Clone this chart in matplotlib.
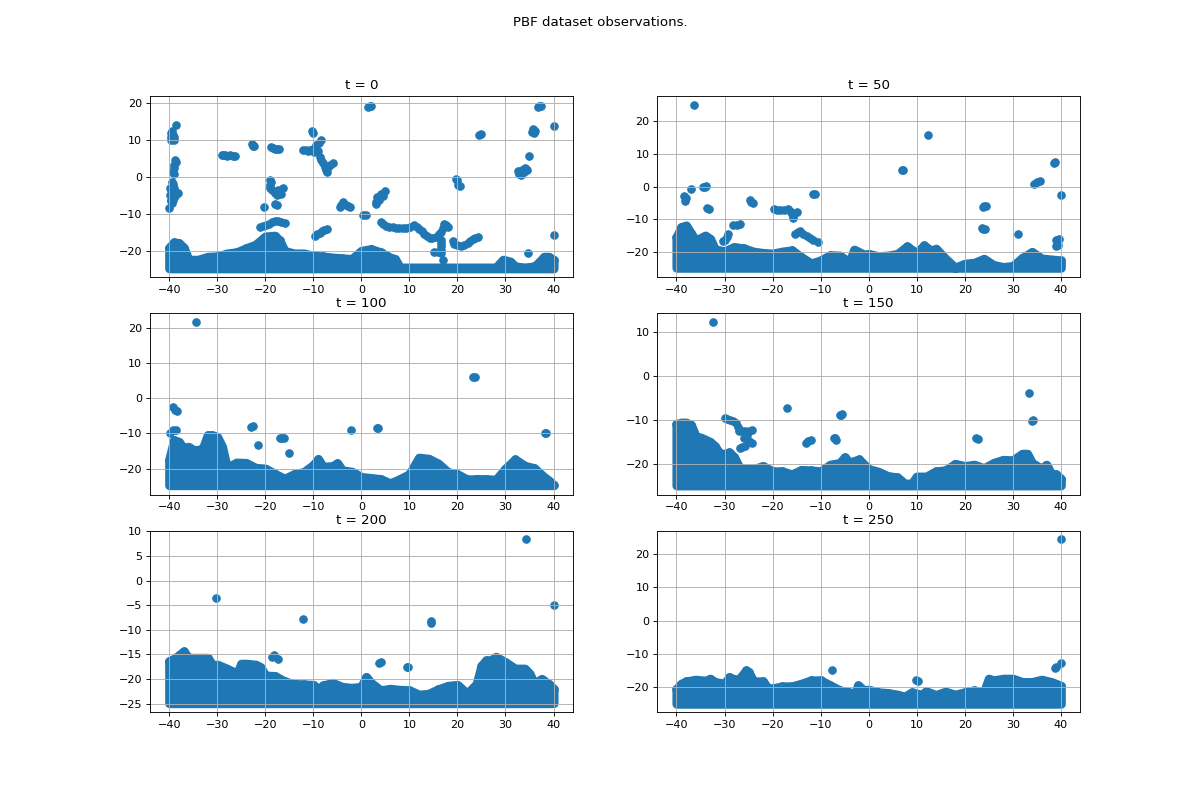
import matplotlib
matplotlib.use("Agg")
import matplotlib.pyplot as plt

times = [0, 50, 100, 150, 200, 250]

# lower edge of the dense band of observations in each panel
band_low = [-24.6, -24.8, -24.7, -24.9, -24.9, -25.0]

ylims = [(-27.0, 22.0), (-27.7, 27.7), (-27.4, 24.2), (-27.0, 14.3), (-26.7, 10.1), (-27.5, 27.0)]

# upper edge of the dense band
band0_x = [-40, -39, -38, -37, -36, -34, -32, -30, -28, -26, -24, -22, -20, -18, -17, -16, -14, -12, -10, -8, -6, -4, -2, 0, 2, 4, 6, 7, 8, 10, 12, 14, 16, 18, 20, 22, 24, 26, 28, 29.5, 31, 32, 34, 36, 37, 38, 39, 40]
band0_y = [-19.0, -17.6, -17.8, -19.0, -22.3, -22.3, -21.5, -21.4, -20.6, -20.3, -19.2, -18.2, -16.0, -15.8, -17.2, -19.9, -20.6, -20.6, -21.2, -21.4, -21.7, -21.9, -22.1, -19.9, -19.4, -20.3, -21.7, -22.1, -24.4, -24.4, -24.4, -24.4, -24.4, -24.4, -24.4, -24.4, -24.4, -24.4, -24.4, -22.3, -22.8, -24.1, -24.4, -24.1, -23.0, -21.5, -21.5, -22.3]
band1_x = [-40, -39, -38, -37, -36, -34, -33, -32, -30, -28, -26, -24, -22, -20, -18, -16, -14, -12, -10, -8, -6, -4, -3, -1, 0, 2, 4, 6, 8, 10, 11.5, 13, 14, 16, 18, 20, 22, 24, 26, 28, 30, 32, 34, 36, 38, 40]
band1_y = [-15.5, -12.4, -11.9, -14.3, -16.5, -15.0, -16.0, -19.2, -19.8, -18.5, -18.9, -19.9, -20.3, -20.5, -19.9, -19.5, -21.6, -23.5, -22.6, -21.0, -21.1, -23.2, -19.3, -20.8, -20.6, -21.3, -21.1, -20.6, -18.3, -20.4, -18.0, -19.6, -19.0, -22.1, -24.8, -23.6, -23.3, -22.1, -24.0, -24.6, -24.3, -21.8, -20.0, -22.0, -22.3, -22.6]
band2_x = [-40, -39, -38, -37, -36, -35, -34, -33, -32, -31, -30, -29, -28, -26, -24, -22, -20, -18, -16, -14, -12, -10, -9, -8, -6, -5, -4, -2, 0, 2, 4, 6, 8, 10, 12, 14, 16, 18, 20, 22, 24, 26, 28, 30, 32, 34, 36, 38, 39, 40]
band2_y = [-17.5, -11.9, -12.4, -14.3, -13.8, -14.7, -14.7, -14.3, -10.5, -10.5, -11.0, -13.8, -19.8, -18.3, -18.4, -19.8, -20.0, -21.5, -22.9, -21.6, -21.0, -19.0, -17.3, -19.5, -19.3, -18.5, -20.5, -20.9, -22.4, -22.7, -23.0, -24.2, -23.0, -21.6, -16.9, -17.2, -18.6, -21.0, -21.6, -23.1, -23.0, -23.0, -23.2, -20.0, -17.4, -19.2, -19.9, -22.4, -23.4, -24.7]
band3_x = [-40, -39, -38, -37, -36, -35, -34, -33, -32, -31, -30, -29, -28, -27, -26, -24, -22, -20, -18, -16, -14, -12, -10, -8, -6, -5, -4, -2, 0, 2, 4, 6, 7.5, 9, 10, 12, 14, 16, 18, 20, 22, 24, 26, 28, 30, 32, 33, 34, 36, 37, 38, 39, 40]
band3_y = [-10.9, -10.6, -10.6, -11.1, -13.8, -14.0, -14.5, -15.0, -16.0, -17.7, -17.7, -17.4, -18.5, -20.7, -21.1, -21.2, -20.5, -21.7, -21.7, -22.4, -21.4, -21.5, -21.7, -20.2, -19.8, -18.5, -19.7, -19.0, -21.2, -21.8, -22.8, -23.1, -24.5, -24.5, -22.9, -22.9, -21.7, -21.5, -20.0, -20.5, -20.2, -21.0, -19.8, -19.1, -19.2, -17.7, -17.7, -19.8, -21.1, -20.2, -22.3, -22.4, -23.4]
band4_x = [-40, -39, -38, -37, -36, -34, -32, -31, -30, -28, -27, -26, -25, -24, -22, -21, -20, -18, -16, -14, -12, -10, -8.5, -8, -6, -4, -2, 0, 1, 2, 4, 6, 8, 10, 12, 14, 16, 18, 20, 22, 24, 25, 26, 27, 28, 30, 32, 34, 35, 36, 37.5, 39, 40]
band4_y = [-16.4, -15.9, -15.2, -14.4, -15.7, -15.7, -15.7, -17.2, -17.1, -17.9, -18.4, -19.2, -16.9, -16.9, -17.1, -17.6, -19.3, -19.4, -20.5, -21.0, -21.1, -21.2, -22.3, -21.3, -20.8, -21.6, -21.8, -21.6, -19.6, -20.8, -22.3, -22.0, -22.2, -22.3, -23.2, -23.0, -22.1, -21.4, -21.2, -23.0, -21.0, -17.3, -16.2, -16.2, -15.5, -16.6, -17.9, -17.9, -18.9, -21.0, -20.0, -21.0, -22.0]
band5_x = [-40, -39, -38, -36, -34, -33, -32, -30, -29, -28, -27, -25.5, -25, -24, -22, -21, -20, -18, -16, -14, -12, -10, -8, -6, -4, -3, -2.2, -1, 0, 2, 4, 6, 7.5, 9, 11, 12, 14, 16, 18, 20, 22, 24, 25, 26, 28, 30, 32, 34, 36, 38, 40]
band5_y = [-20.6, -19.0, -18.3, -17.8, -18.1, -17.5, -18.5, -19.0, -17.0, -17.7, -17.7, -15.0, -15.5, -18.3, -18.3, -20.4, -20.4, -19.8, -19.8, -19.0, -18.0, -18.0, -19.5, -21.0, -21.6, -22.6, -19.5, -21.0, -20.8, -21.6, -21.8, -22.3, -22.9, -21.6, -22.3, -21.3, -22.4, -21.4, -22.3, -21.6, -21.0, -21.6, -17.5, -18.0, -17.5, -17.5, -18.5, -18.5, -17.8, -18.5, -19.6]

# separate observations above the band
pts0_x = [-39.7, -39.3, -39.6, -39.0, -38.9, -39.4, -39.6, -38.5, -38.8, -39.0, -39.2, -38.6, -38.9, -39.1, -39.5, -39.6, -39.9, -39.2, -38.1, -40.0, -39.0, -39.4, -39.6, -39.4, -39.3, -39.2, -39.8, -39.4, -38.8, -39.7, -29.1, -28.7, -28.4, -27.9, -27.4, -26.8, -26.4, -22.8, -22.4, -22.6, -18.9, -18.4, -18.0, -17.5, -17.1, -10.2, -10.0, -12.2, -11.6, -11.1, -10.6, -10.1, -9.4, -8.9, -8.4, -9.0, -8.7, -8.3, -8.0, -7.6, -7.3, -7.1, -5.9, -6.6, -7.0, -9.6, -9.9, 1.8, 1.4, 2.1, 25.0, 24.5, 37.0, 37.3, 36.7, 40.0, 35.8, 35.6, 36.2, 35.9, 35.0, 32.9, 32.6, 33.2, 34.2, 33.5, 34.5, 33.0, 33.8, 34.0, 32.8, 19.6, 20.0, 20.5, 20.2, 40.0, 34.6, -19.1, -19.0, -18.6, -18.0, -17.0, -16.3, -17.3, -18.8, -17.6, -16.7, -19.0, -20.3, -17.9, -17.6, -4.5, -4.2, -3.8, -3.2, -2.3, -2.8, 0.3, 1.0, 3.1, 3.2, 4.1, 5.0, 3.1, 3.6, 4.5, 4.1, 4.6, 5.2, 5.8, 6.5, 7.2, 7.9, 8.6, 9.3, 10.2, 11.0, 11.5, 12.1, 12.6, 13.1, 13.6, 14.2, 14.8, 15.5, 16.1, 16.6, 16.9, 17.1, 17.6, 18.0, 16.6, 16.6, 16.6, 16.6, 15.2, 15.9, 16.6, 16.9, 19.0, 19.3, 19.9, 20.7, 21.4, 22.1, 22.6, 23.2, 23.7, 24.2, -9.7, -9.2, -8.7, -8.2, -7.7, -7.1, -21.0, -20.4, -19.8, -19.2, -18.7, -18.0, -17.4, -16.7, -16.0, -16.9]
pts0_y = [12.0, 11.5, 10.0, 10.0, 11.0, 12.6, 11.0, 14.1, 4.7, 3.3, 1.5, 4.2, 2.4, 0.8, -1.2, -3.4, -4.8, -6.1, -4.3, -8.4, -3.0, -2.5, -6.5, -7.0, -5.5, -1.8, -3.0, -4.0, -5.0, -6.0, 6.0, 6.0, 6.0, 5.9, 6.0, 5.8, 5.9, 9.0, 8.6, 8.4, 8.1, 7.9, 7.8, 7.7, 7.6, 12.6, 12.0, 7.4, 7.3, 7.2, 7.4, 7.6, 8.7, 9.3, 10.1, 7.0, 5.6, 4.7, 3.8, 2.9, 2.0, 1.5, 3.8, 3.3, 2.7, 8.0, 6.8, 19.3, 19.1, 19.4, 11.6, 11.4, 19.3, 19.4, 19.1, 14.0, 13.0, 12.2, 12.6, 12.0, 5.8, 1.5, 1.8, 0.6, 2.2, 2.0, 2.1, 1.0, 1.5, 2.4, 0.9, -0.5, -0.7, -2.3, -2.0, -15.5, -20.4, -0.7, -2.0, -3.4, -4.3, -4.1, -3.0, -3.4, -1.3, -4.7, -4.6, -2.8, -7.9, -7.3, -7.5, -8.1, -7.4, -6.6, -7.5, -7.9, -7.7, -10.3, -10.3, -6.6, -5.4, -4.5, -3.7, -7.1, -6.0, -5.0, -12.0, -12.7, -13.2, -13.4, -13.5, -13.6, -13.7, -13.7, -13.6, -13.3, -12.9, -13.4, -14.0, -14.6, -15.3, -15.9, -16.5, -16.3, -16.0, -15.3, -14.7, -13.7, -12.6, -13.0, -13.5, -16.9, -17.8, -18.7, -19.6, -20.1, -20.3, -20.5, -22.3, -17.1, -18.0, -18.4, -18.7, -18.3, -17.8, -17.2, -16.7, -16.4, -16.2, -15.8, -15.4, -15.1, -14.6, -14.2, -14.0, -13.5, -13.2, -12.9, -12.5, -12.2, -11.9, -11.7, -12.0, -12.4, -16.9]
pts1_x = [-36.3, 12.4, 6.9, 7.1, 38.8, 38.5, 34.5, 35.6, 35.1, 40.0, 24.0, 23.8, 24.4, 23.8, 24.2, 23.5, 31.0, -11.5, -11.2, -36.9, -34.0, -33.8, -34.4, -38.5, -38.3, -38.0, -33.7, -33.3, -24.7, -24.4, -24.0, -19.7, -19.1, -18.5, -17.6, -16.7, -16.3, -16.0, -15.0, -15.5, -15.8, -28.2, -27.5, -26.8, -29.2, -29.5, -29.9, -30.4, -15.3, -14.8, -14.3, -13.6, -12.9, -12.2, -11.5, -10.6, 39.0, 39.4, 39.6, 39.1]
pts1_y = [25.1, 15.7, 5.1, 5.1, 7.4, 7.1, 0.8, 1.8, 1.5, -2.5, -6.0, -6.2, -6.0, -13.0, -13.0, -12.8, -14.4, -2.2, -2.4, -0.6, 0.0, 0.3, -0.2, -3.0, -4.4, -3.6, -6.6, -7.0, -4.1, -4.6, -5.1, -6.9, -7.1, -7.3, -7.2, -6.8, -7.5, -8.3, -7.9, -8.3, -9.6, -11.6, -11.6, -11.5, -14.4, -15.3, -16.2, -16.7, -14.4, -14.0, -13.7, -14.4, -15.2, -15.7, -16.2, -16.8, -16.2, -17.8, -16.0, -18.3]
pts2_x = [-34.4, 23.2, 23.6, -39.2, -38.7, -38.4, -22.5, -22.9, -21.5, -16.5, -16.9, -16.2, -15.1, -2.2, 3.4, 3.2, 38.5, 38.2, -39.2, -38.5, -39.8, -30.5]
pts2_y = [21.7, 6.0, 6.2, -2.5, -3.2, -3.7, -7.9, -8.1, -13.2, -11.2, -11.2, -11.3, -15.5, -8.9, -8.3, -8.4, -9.8, -9.8, -9.1, -9.1, -9.8, -12.8]
pts3_x = [-32.3, -16.9, -5.8, -6.0, -5.5, -12.6, -12.0, -13.1, -7.0, -7.2, -6.8, 33.3, 34.2, 34.0, 22.4, 22.8, -29.9, -29.4, -28.9, -28.2, -27.6, -27.2, -26.9, -26.3, -25.7, -25.0, -24.3, -25.0, -25.7, -26.8, -26.3, -24.3, -25.3, -26.0]
pts3_y = [12.3, -7.3, -8.8, -8.9, -8.7, -14.8, -14.5, -15.2, -14.2, -14.1, -14.5, -3.9, -10.1, -10.3, -14.2, -14.4, -9.5, -9.7, -9.9, -10.3, -10.7, -11.5, -12.4, -12.5, -12.6, -12.5, -12.3, -14.8, -16.0, -16.4, -16.2, -15.2, -13.5, -14.0]
pts4_x = [34.2, -30.2, -12.2, 40.0, 14.4, 14.4, -18.1, -17.4, -18.7, 3.6, 4.1, 9.8, 9.6]
pts4_y = [8.4, -3.6, -7.9, -5.0, -8.3, -8.6, -15.2, -15.9, -15.5, -16.7, -16.6, -17.6, -17.6]
pts5_x = [40.0, -7.6, 40.0, 38.7, 39.0, 9.9, 10.3]
pts5_y = [24.5, -14.9, -12.8, -14.3, -14.1, -18.0, -18.3]

bands = [(band0_x, band0_y), (band1_x, band1_y), (band2_x, band2_y),
         (band3_x, band3_y), (band4_x, band4_y), (band5_x, band5_y)]
points = [(pts0_x, pts0_y), (pts1_x, pts1_y), (pts2_x, pts2_y),
          (pts3_x, pts3_y), (pts4_x, pts4_y), (pts5_x, pts5_y)]

fig, axes = plt.subplots(3, 2, figsize=(15, 10))
fig.suptitle("PBF dataset observations.")

for i, ax in enumerate(axes.flat):
    bx, by = bands[i]
    px, py = points[i]
    # band too dense to see single points, outline as wide as one marker
    ax.fill_between(bx, band_low[i], by, facecolor="C0", edgecolor="C0", lw=8.2, joinstyle="round", zorder=1)
    ax.scatter(bx, by, s=45, color="C0")
    ax.scatter(px, py, s=45, color="C0")
    ax.set_title("t = %d" % times[i])
    ax.set_xlim(-44, 44)
    ax.set_ylim(*ylims[i])
    ax.grid()

plt.savefig("out.png", dpi=80)
